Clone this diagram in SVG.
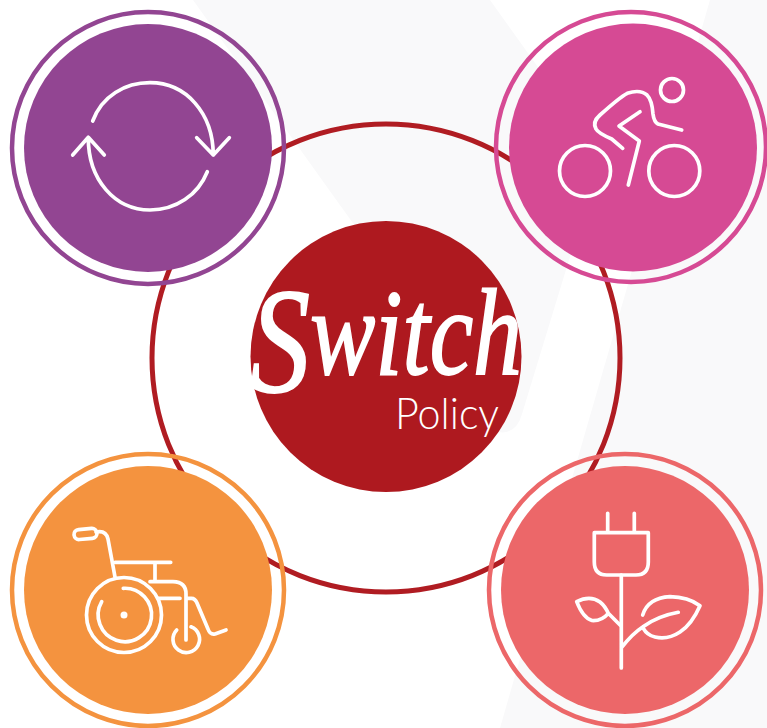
<svg xmlns="http://www.w3.org/2000/svg" width="767" height="728" viewBox="0 0 767 728">
<style>
.bg{fill:#f9f9fa}
.ico{fill:none;stroke:#fff;stroke-width:3.7;stroke-linecap:round;stroke-linejoin:round}
.halo{fill:none;stroke-width:4.5}
.dot{fill:#fff}
.t1{font-family:"Liberation Serif",serif;font-style:italic;fill:#fff;stroke:#fff;stroke-width:1.8}
.t2{font-family:"Lato","Open Sans",sans-serif;font-weight:300;fill:#fff}
</style>
<rect width="767" height="728" fill="#fff"/>
<g id="background">
<path class="bg" d="M193 0H490L601 155L522 414Q516 435 498 432L494 420Z"/>
<path class="bg" d="M710 0H767V728H500Z"/>
</g>
<g id="connectors">
<circle cx="386" cy="358" r="234" fill="none" stroke="#b01c22" stroke-width="5"/>
</g>
<g id="centre">
<circle cx="386" cy="356.5" r="135.5" fill="#ae191f"/>
<text class="t1" x="250" y="392" font-size="150" textLength="272" lengthAdjust="spacingAndGlyphs">S<tspan font-size="122" dy="-18">witch</tspan></text>
<text class="t2" x="395" y="429" font-size="44" textLength="104" lengthAdjust="spacingAndGlyphs">Policy</text>
</g>
<g id="node-cycle">
<circle class="halo" cx="148" cy="148" r="136" stroke="#924592"/>
<circle cx="148" cy="148" r="124" fill="#924592"/>
<path class="ico" d="M92.7 121C102 96 125 82.7 150 82.7C186 82.7 213 113 213.3 155M196.7 137.7L213.3 155L229.3 137.7"/>
<path class="ico" d="M207.3 171.7C198 195 176 210 150 210C115 210 88 180 88.3 137.3M72.7 155L88.3 137.3L104.3 155"/>
</g>
<g id="node-bike">
<circle class="halo" cx="631" cy="147" r="135" stroke="#d64a94"/>
<circle cx="633" cy="147.5" r="124" fill="#d64a94"/>
<circle class="ico" cx="672" cy="90" r="11.5"/>
<circle class="ico" cx="585" cy="171" r="25.5"/>
<circle class="ico" cx="674.3" cy="171" r="25.5"/>
<path class="ico" d="M681.7 130L658 124Q654 122 653 114Q652 100 647 95Q640 89 627.3 93.3Q620 97 600 115Q592 122 596 129Q598 133 611.7 139L622.7 148.3"/>
<path class="ico" d="M640 111.7L619 126L639.3 141L628.3 185"/>
</g>
<g id="node-wheelchair">
<circle class="halo" cx="148" cy="590" r="136" stroke="#f4933f"/>
<circle cx="148" cy="590" r="124" fill="#f4933f"/>
<rect class="ico" x="74" y="529" width="23" height="10" rx="5" transform="rotate(-5 85 534)"/>
<path class="ico" d="M96 532Q106 530 108 539L115 577"/>
<path class="ico" d="M115 562.3H170.7M155 562.3V581M150 581.7H173Q186 582 186 594V640M158.3 598.3H180M186 598.3H191Q195 598 197 603L208 629Q210 635 215 634L226 630"/>
<circle class="ico" cx="124" cy="615" r="37.5"/>
<path class="ico" d="M123.3 588.3A26.7 26.7 0 1 1 101.7 601.7"/>
<circle class="dot" cx="124" cy="615" r="3.5"/>
<path class="ico" d="M176.7 630A13.3 13.3 0 1 0 191 626.8"/>
</g>
<g id="node-plug">
<circle class="halo" cx="625" cy="590" r="136" stroke="#ec6769"/>
<circle cx="625" cy="590" r="124" fill="#ec6769"/>
<path class="ico" d="M607.7 513.3V532.5M634.3 513.3V532.5M594.3 532.7H648.3V562Q648.3 575 636 575H606.7Q594.3 575 594.3 562Z"/>
<path class="ico" d="M621.3 575V668M622.3 646.7Q632 634 643 626.7Q658 616 678.3 612.3"/>
<path class="ico" d="M642.7 615Q648 598 670 596.7Q688 597 700 605.7Q692 624 680 632Q668 640 655 637Q647 635 643.3 628.3"/>
<path class="ico" d="M576.7 601.7Q590 595 600 602Q605 606 608.3 613.3Q602 621 592 620.5Q583 618 576.7 601.7ZM608.3 613.3L620 625"/>
</g>
</svg>
